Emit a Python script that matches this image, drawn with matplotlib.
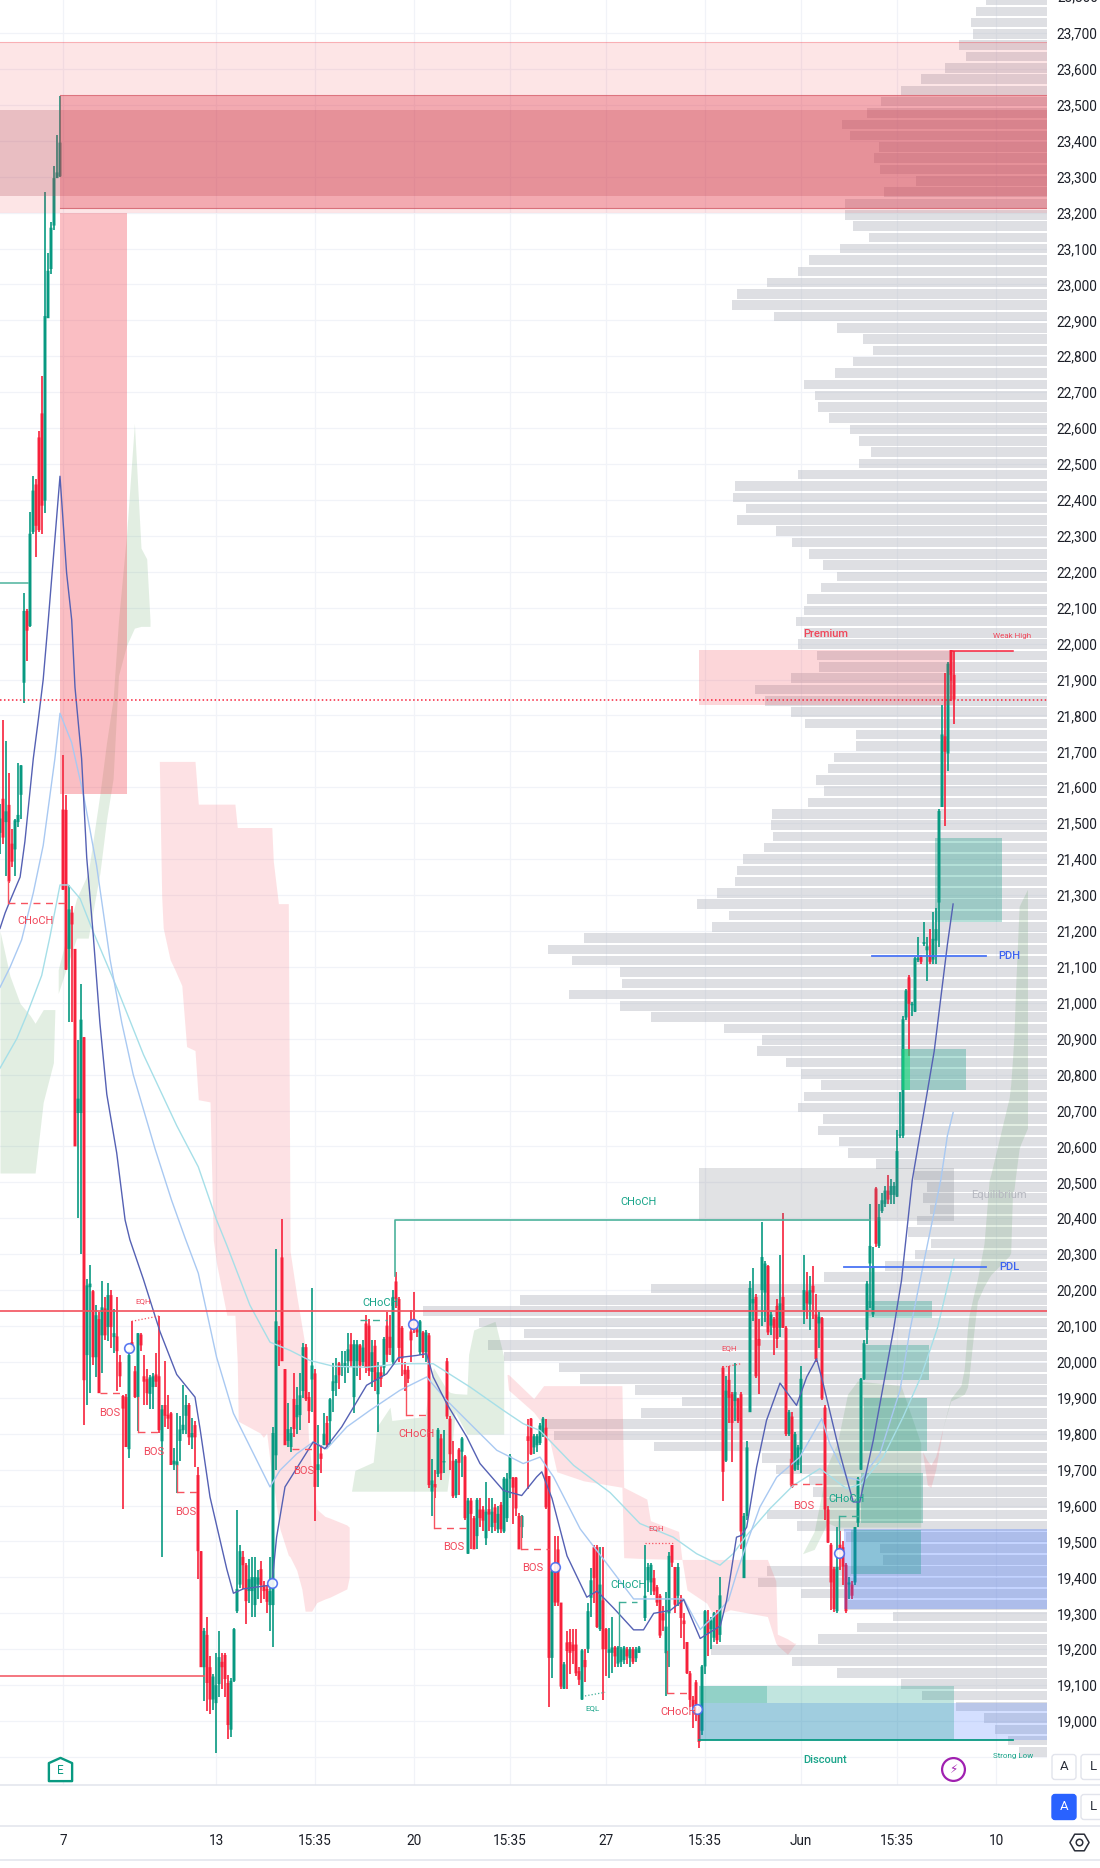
import numpy as np
import matplotlib
matplotlib.use('Agg')
import matplotlib.pyplot as plt
from matplotlib.path import Path
from matplotlib.patches import FancyBboxPatch, Rectangle

plt.rcParams['font.family'] = ['Roboto', 'DejaVu Sans']

na = np.nan
GREEN = '#089981'
RED = '#f7213b'

# candles, one entry per bar
opens = [21473,21568,21503,21551,21443,21427,21503,21579,21891,22091,
         22049,22311,22443,22574,22641,22398,22906,23043,23164,23296,
         23301,21538,21537,21150,21251,21150,20693,20693,20904,20019,
         20208,20197,20013,20119,20074,20149,20097,20186,20069,20071,
         20000,19905,19902,19757,20055,19974,19902,20076,19960,19952,
         19911,19930,19965,19960,19779,19880,19853,19857,19715,19712,
         19780,19810,19850,19880,19790,19824,19685,19473,19150,19240,
         19150,19060,19050,19103,19165,19184,19106,18976,19112,19306,
         19380,19457,19434,19362,19362,19323,19380,19423,19379,19368,
         19323,19323,19740,20060,20291,19980,19780,19763,19897,19846,
         19852,19919,20041,19902,19951,19968,19699,19745,19768,19830,
         19835,19919,19941,19996,19985,19985,20002,20049,19902,20002,
         20046,20000,20107,20101,19972,20045,19910,19971,19984,20101,
         20070,20000,20224,20175,20095,19978,19978,20085,20120,20090,
         20027,20082,20027,20074,19639,19660,19688,19787,19720,20002,
         19842,19725,19629,19756,19750,19737,19466,19614,19565,19515,
         19589,19589,19509,19590,19540,19595,19534,19602,19528,19565,
         19675,19678,19678,19571,19540,na,19793,19842,19762,19768,
         19774,19799,19817,19682,19176,19417,19478,19330,19090,19219,
         19220,19213,19213,19139,19060,19170,19201,19343,19484,19484,
         19256,19336,19256,19190,19190,19205,19160,19165,19170,19200,
         19175,19200,19175,19190,na,19287,19392,19386,19398,19373,
         19349,19300,19189,19300,19490,19429,19349,19343,19280,19220,
         19133,19059,19108,19034,18973,19152,19281,19256,19232,19300,
         19240,19984,19725,19950,19910,19891,19898,19910,19398,19571,
         19860,20163,20181,20064,20200,20193,20267,20101,20119,20156,
         20095,20181,20095,19799,19848,19700,19713,19756,20144,20196,
         20160,20212,20132,20107,20122,19873,19589,19491,19423,19306,
         19491,19484,19435,19380,19380,19386,19552,19700,19953,20089,
         20274,20132,20483,20323,20420,20440,20477,20465,20465,20460,
         20630,20630,20959,21071,20993,20975,21119,21130,21164,21146,
         21130,21120,21173,21279,21545,21742,21694,21982,21913]
closes = [21513,21460,21533,21338,21393,21508,21523,21661,22091,22036,
          22306,22426,22328,22316,22384,22912,23038,23158,23296,23312,
          23395,21315,21092,21260,21218,20600,20733,20953,19949,20213,
          20218,20013,20130,19913,20152,20074,20186,20097,20080,20030,
          19960,19870,19763,20019,20040,19902,20080,20046,19945,19913,
          19957,19960,19945,19810,19868,19850,19842,19713,19725,19723,
          19812,19825,19880,19790,19802,19790,19473,19150,19251,19106,
          19060,19124,19100,19178,19150,19117,18989,19112,19256,19368,
          19473,19434,19334,19395,19401,19401,19400,19379,19362,19332,
          19362,19802,20113,20050,20002,19768,19813,19802,19813,19880,
          19907,20041,19896,19863,19990,19652,19715,19730,19800,19768,
          19896,19946,19963,19963,19990,19997,20035,20002,20049,20049,
          19990,20040,19984,19975,20027,19947,19971,19953,20064,20020,
          20039,20181,20175,20039,20009,19965,19953,20060,20095,20082,
          20113,20027,20082,19657,19670,19650,19811,19690,19724,19848,
          19743,19626,19725,19719,19787,19565,19614,19577,19478,19616,
          19565,19558,19583,19575,19583,19552,19577,19534,19675,19675,
          19737,19650,19592,19478,19571,na,19780,19743,19793,19793,
          19823,19842,19595,19176,19417,19330,19330,19096,19158,19195,
          19190,19195,19133,19115,19197,19150,19306,19392,19398,19262,
          19380,19200,19200,19200,19205,19180,19205,19200,19205,19180,
          19200,19165,19200,19205,na,19349,19429,19435,19361,19330,
          19238,19280,19263,19460,19441,19324,19429,19287,19270,19133,
          19059,19040,19047,18942,19152,19306,19244,19280,19300,19225,
          19350,19694,19920,19900,19830,19916,19836,19528,19571,19762,
          20206,20175,19960,20045,20292,20274,20082,20132,20095,20064,
          20163,20095,19799,19860,19651,19799,19762,19953,20200,20163,
          20200,20193,20008,20126,19898,19589,19497,19386,19312,19429,
          19466,19430,19306,19386,19349,19540,19675,19953,20052,20218,
          20323,20267,20329,20403,20450,20477,20452,20490,20490,20587,
          20633,20954,21034,20997,20997,21124,21124,21114,21169,21157,
          21114,21178,21205,21534,21747,21699,21944,21913,21844]
highs = [21553,21788,21728,21640,21483,21513,21667,21663,22141,22096,
         22366,22466,22459,22591,22745,23258,23087,23175,23329,23417,
         23526,21689,21579,21328,21269,21150,20897,21051,20904,20230,
         20269,20200,20158,20140,20225,20180,20219,20200,20147,20180,
         20020,19907,19910,20030,20113,19990,20080,20080,20020,19980,
         19963,19970,20025,20128,19880,20002,19907,19860,19760,19857,
         19850,19935,19907,19885,19845,19835,19707,19473,19260,19290,
         19180,19130,19190,19250,19190,19190,19128,19120,19260,19587,
         19490,19473,19440,19450,19456,19456,19420,19445,19390,19380,
         19457,19820,20314,20100,20398,19980,19885,19820,19970,19930,
         19970,20052,20050,19915,20207,19980,19824,19770,19857,19850,
         19900,19997,20010,20000,20030,20030,20080,20080,20060,20060,
         20050,20060,20130,20120,20060,20060,20000,19990,20070,20140,
         20130,20200,20249,20180,20100,20000,19990,20145,20194,20110,
         20118,20085,20090,20080,19730,19700,19815,19800,19810,20010,
         19850,19780,19730,19760,19790,19740,19620,19620,19570,19620,
         19620,19600,19665,19620,19620,19605,19600,19610,19680,19690,
         19745,19680,19680,19580,19575,na,19842,19845,19800,19800,
         19830,19848,19840,19682,19420,19515,19515,19330,19165,19250,
         19255,19255,19255,19150,19200,19200,19330,19425,19490,19490,
         19484,19484,19260,19260,19290,19210,19210,19205,19210,19205,
         19205,19205,19205,19210,na,19490,19440,19440,19420,19380,
         19355,19320,19360,19470,19490,19430,19440,19350,19300,19220,
         19140,19070,19115,19040,19155,19310,19310,19290,19305,19310,
         19400,19990,19960,19990,19915,19996,19900,19915,19580,19780,
         20225,20261,20190,20120,20390,20280,20270,20140,20125,20175,
         20298,20415,20100,19865,19860,19805,19770,19990,20298,20250,
         20240,20267,20190,20140,20125,19880,19600,19495,19430,19540,
         19530,19500,19440,19400,19390,19540,19680,19955,20060,20225,
         20440,20320,20487,20440,20470,20490,20520,20510,20500,20646,
         20752,20963,21038,21078,21003,21128,21184,21134,21226,21184,
         21204,21254,21264,21539,21829,21919,21949,21982,21980]
lows = [21413,21443,21353,21333,21378,21353,21488,21513,21836,21951,
        22046,22306,22240,22311,22306,22363,22906,23028,23153,23296,
        23298,21315,21090,20947,20947,20600,20402,20301,19824,19880,
        19913,19991,19957,19913,19969,20060,20058,20040,20024,19918,
        19930,19590,19763,19733,20030,19900,19807,20030,19880,19880,
        19868,19870,19930,19802,19457,19820,19812,19713,19700,19635,
        19725,19800,19800,19770,19757,19707,19395,19150,19056,19028,
        19020,19030,18911,19067,19090,19067,18950,18956,19110,19300,
        19370,19368,19270,19330,19290,19290,19340,19330,19340,19301,
        19250,19206,19700,19990,20002,19768,19763,19750,19790,19800,
        19810,19900,19890,19830,19860,19556,19652,19690,19768,19760,
        19770,19860,19905,19925,19960,19940,19970,19985,19857,19960,
        19950,19990,19970,19960,19930,19920,19805,19930,19960,20000,
        20020,19995,20150,20000,19960,19920,19940,20000,20080,20070,
        20020,20010,20000,19650,19570,19620,19680,19670,19690,19840,
        19700,19620,19620,19630,19680,19560,19466,19480,19478,19480,
        19540,19530,19490,19530,19525,19530,19525,19525,19525,19555,
        19620,19550,19570,19478,19510,na,19645,19740,19745,19750,
        19770,19790,19590,19040,19120,19320,19320,19090,19090,19090,
        19130,19160,19125,19100,19060,19110,19190,19290,19330,19260,
        19250,19060,19125,19120,19135,19150,19150,19150,19160,19160,
        19150,19160,19165,19190,na,19280,19360,19350,19350,19320,
        19230,19250,19070,19150,19430,19300,19320,19230,19200,19130,
        19040,18980,19000,18925,18960,19130,19180,19200,19220,19215,
        19220,19614,19720,19830,19720,19836,19830,19480,19398,19560,
        19860,20115,19955,19910,20100,20110,20075,20075,20020,20040,
        20070,20095,19795,19795,19650,19695,19700,19690,20105,20120,
        20090,20120,20000,20040,19895,19560,19495,19310,19305,19300,
        19420,19380,19300,19340,19340,19380,19540,19700,19950,20050,
        20150,20125,20320,20318,20415,20430,20440,20440,20440,20458,
        20623,20623,20953,20853,20963,20973,21114,21109,21159,21061,
        21109,21109,21109,21154,21544,21492,21646,21840,21775]

# volume profile, length of each row from the right edge in bars
profile_widths = [20.4,23.7,25.2,24.7,29.2,26.9,34,42,48.7,55.2,59.9,68.4,65.7,56,57.6,55.7,
                  43.6,54.3,67.4,67.5,64.6,59.5,69,79.4,83,93.4,103.2,104.9,91,69.9,61.4,57.9,
                  64.6,70.6,80.9,77.4,76.2,72.6,65.7,62.6,58.6,62.6,83,104,104.6,100.4,103.2,90.5,
                  85,79.4,74.6,69.9,75.4,80.1,81,83.6,81,83,76.7,75.9,85.4,97.3,94,85.4,80.6,63.7,
                  63.7,71.1,73,77,74.3,79.7,91.7,92.1,91.3,94.5,101.3,103.2,104,110,116.8,106,111.6,
                  154.3,166.2,158.2,142.3,141.6,159.4,142.3,132,107.7,95.1,96.6,87,82.1,75.4,81,83,
                  74.6,76.2,69.3,66.5,57.1,44.3,40,41.2,39.1,43.2,46.5,38.7,44,54,74.3,132,175.7,208,
                  189.4,174.3,186.3,181,162.7,155.7,137.3,121.7,135.3,167.3,164.4,131,95,90.2,79.3,
                  78,74,93.2,83.2,67,55.6,54.6,93.2,96.5,82,66.5,51.5,63.2,76.2,112,84.9,69.9,48.7,
                  41.7,30.2,21,17.4,13,9.3]

# moving averages
ma_fast_x = [0,1.7,3.3,6.7,8.3,11.1,12.8,14.4,16.1,20,22.2,23.9,25,27.2,28.9,31.1,33.3,35.6,38.9,41.7,43.3,47.8,53.3,58.9,
             65,66.7,70,75.6,77.8,81.1,90.6,92.2,95,104.4,108.3,113.9,122.2,128.9,132.8,138.9,142.2,144.4,148.9,155.6,160,
             167.8,173.9,178.9,180.6,184,189,195.6,199,204.5,211.2,214.5,217.9,223.4,227.9,233.4,240.1,242.2,245.5,247.2,
             248.9,252.2,255.5,260,265.5,268.9,272.2,274.4,280,284.4,286.6,291.1,297.8,300.5,304.1,311.4,315.8,317.7]
ma_fast_y = [21207,21250,21283,21350,21449,21680,21790,21900,22066,22466,22197,22066,21878,21680,21405,21186,20944,20745,20582,
             20395,20340,20230,20085,19965,19902,19813,19624,19423,19356,19368,19379,19512,19652,19777,19758,19819,19935,19967,
             20012,20018,20023,19958,19884,19791,19717,19642,19628,19680,19694,19620,19460,19345,19362,19315,19254,19254,19300,
             19308,19338,19230,19265,19336,19512,19517,19540,19707,19837,19941,19879,19958,20009,19939,19744,19610,19610,19782,
             20088,20227,20507,20865,21162,21275]
ma_mid_x = [0,3.3,7.2,11.1,14.4,18.3,20,23.9,27.8,32.2,36.7,40.6,44.4,51.7,57.2,61.7,66.1,72.2,77.8,90,93.3,98.9,104.4,108.9,
            115.6,123.3,133.3,142.2,148.9,155.6,165.6,174.4,180,184.5,193.4,202.3,211.2,227.9,233.4,239,242.8,245.5,248.9,
            253.3,258.9,262.2,266.6,273.9,276.6,282.2,286.6,293.3,300,303.3,309.1,313.6,315.8,317.7]
ma_mid_y = [21043,21098,21175,21306,21438,21680,21806,21724,21580,21382,21120,20944,20800,20593,20450,20345,20247,20013,19857,
            19652,19698,19744,19777,19758,19819,19865,19921,19958,19893,19837,19754,19717,19735,19680,19535,19438,19340,19340,
            19255,19300,19336,19410,19494,19596,19679,19703,19735,19842,19772,19679,19670,19744,19921,20088,20325,20507,20630,20694]
ma_slow_x = [0,5.6,8.9,13.9,16.7,20,22.8,26.7,31.1,38.9,47.8,58.9,66.1,72.2,75.6,83.3,90,96.7,103.3,111.1,122.3,133.4,144.4,
             156.7,167.8,174.4,180,191.2,203.4,213.3,224.4,232.2,240,244.4,248.9,256.6,264.4,273.3,282.2,287.2,294.4,301,307,312.5,318]
ma_slow_y = [20818,20900,20966,21076,21186,21328,21328,21290,21197,21043,20856,20658,20543,20395,20325,20158,20055,20032,20004,
             19988,19985,19995,19995,19930,19865,19828,19809,19712,19636,19550,19512,19466,19434,19466,19517,19591,19656,19703,
             19647,19661,19735,19846,19959,20095,20286]

# clouds
green1_x = [19.4,25.5,29.4,33.3,35.5,37.7,39.5,42.2,44.8,47,48.9,50]
green1_top = [21092,21290,21361,21581,21724,21845,22065,22306,22613,22266,22236,22065]
green1_bot = [21026,21180,21180,21361,21509,21624,21911,21995,22043,22048,22048,22048]
green2_x = [0,3.3,6.7,10,11.7,14.4,17.8,18.3]
green2_top = [21200,21075,20998,20965,20943,20981,20981,20981]
green2_bot = [20526,20526,20526,20526,20526,20723,20833,20981]
green3_x = [117.2,118.3,124.4,125.6,130,130.6,141.7,142.9,144.5,149,150.1,151.7,155.6,156.2,157.9,165,167.9]
green3_top = [19642,19698,19721,19819,19874,19837,19848,19934,19984,19922,19915,19912,19910,20021,20089,20113,20015]
green3_bot = [19640,19640,19640,19640,19640,19640,19640,19640,19640,19640,19713,19860,19799,19799,19799,19799,19799]
green4_x = [267.5,271.4,275.8,279.1,282.5,285.8,300.3,306.9]
green4_top = [19466,19528,19713,19774,19910,19947,19934,19774]
green4_bot = [19466,19478,19552,19540,19540,19540,19540,19540]
green5_x = [314.1,316.9,320.3,321.4,322.5,323,324.7,325.8,328,329.7,330.3,336.4,336.9,337.5,338,338.6,339.7,340.3,342.5]
green5_top = [19811,19898,19934,19980,20095,20130,20193,20230,20329,20505,20523,20736,20773,20843,20913,21055,21268,21279,21316]
green5_bot = [19811,19891,19905,19910,19930,19959,20090,20169,20210,20235,20243,20295,20304,20472,20480,20522,20593,20608,20651]
pink1_x = [53.1,53.9,54.4,56.7,58.3,60.6,62.2,65,66.1,70,71.1,72.2,75.6,78.3,79.1,79.4,86.7,87.8,88.9,90.6,91.1,92.8,93.3,96.1,
           96.7,98.9,100.6,101.7,102.8,103.9,105.6,108.3,110,115.6,116.4]
pink1_top = [21672,21672,21672,21672,21672,21672,21672,21672,21553,21553,21553,21553,21553,21553,21488,21488,21488,21488,21488,
             21488,21394,21276,21276,21276,20308,20185,20100,20045,19790,19700,19590,19570,19565,19546,19540]
pink1_bot = [21672,21295,21208,21120,21092,21048,20878,20867,20730,20724,20340,20273,20130,20130,19996,19835,19802,19790,19802,
             19680,19663,19560,19535,19462,19457,19420,19368,19306,19306,19306,19330,19340,19345,19368,19400]
pink2_x = [169,169.5,177.9,181.2,183.4,185.6,194.5,207.3,207.9,215.6,216.8,226.2,227.3,229,235.6,237.9,243.4,255.8,258.6,259.1,262.5,264.7,265.3]
pink2_top = [19965,19965,19898,19934,19934,19934,19934,19934,19651,19618,19558,19528,19450,19450,19450,19450,19450,19450,19390,19242,19229,19217,19217]
pink2_bot = [19965,19922,19860,19824,19774,19694,19669,19651,19455,19452,19452,19450,19450,19365,19328,19291,19310,19291,19217,19211,19186,19211,19217]
pink3_x = [307.5,309.1,310.3,311.9,314.1]
pink3_top = [19750,19725,19713,19737,19811]
pink3_bot = [19750,19657,19651,19700,19805]

# order blocks and zones
ob_left = [311.7,300.3,289,288,288,287,283.6]
ob_right = [333.9,321.9,310.8,309.7,308.9,307.8,306.9]
ob_top = [21460,20870,20171,20048,19900,19690,19532]
ob_bottom = [21226,20758,20122,19949,19753,19552,19410]

# structure lines: x0, x1, level, start of the vertical leg
red_x0 = [33.3,45.9,59.1,97.2,135.4,144.7,173.6,222.3,263.4,2.8]
red_x1 = [41.1,54.4,66.1,103.9,142.3,155.6,182.9,230.6,274.1,21.7]
red_level = [19913,19804,19637,19757,19852,19537,19478,19079,19660,21279]
red_from = [19913,19902,19713,19757,19971,19651,19571,19195,19730,21339]
green_x0 = [206.2,279.5,120]
green_x1 = [212.3,286.4,129]
green_level = [19332,19570,20117]
green_from = [19166,19497,20117]

# swing markers
swing_x = [43.1,90.6,137.5,185,232.3,279.7]
swing_y = [20038,19384,20105,19428,19034,19468]

# labels
red_labels = ['CHoCH','BOS','BOS','BOS','BOS','CHoCH','BOS','BOS','CHoCH','BOS']
red_label_x = [12,36.7,51.1,61.8,101.1,138.9,151.4,177.6,226.2,268]
red_label_y = [21228,19857,19750,19582,19696,19798,19486,19425,19025,19599]
green_labels = ['CHoCH','CHoCH','CHoCH','CHoCH']
green_label_x = [126.7,213,209.5,282.2]
green_label_y = [20164,20446,19380,19619]

tick_bars = [21,72,105,138,170,202,235,267,299,332]
tick_names = ['7','13','15:35','20','15:35','27','15:35','Jun','15:35','10']
price_ticks = list(range(19000, 23800, 100))

fig = plt.figure(figsize=(11, 18.68), dpi=100)
ax = fig.add_axes([0, 83 / 1868, 1047 / 1100, 1785 / 1868])
ax.set_xlim(0, 349)
ax.set_ylim(18822, 23792)
for s in ax.spines.values():
    s.set_visible(False)

ax.set_xticks(tick_bars)
ax.set_xticklabels(tick_names, fontsize=9.8, color='#1c1f28')
ax.set_yticks(price_ticks)
ax.set_yticklabels(['{:,}'.format(p) for p in price_ticks], fontsize=9.8, color='#1c1f28')
ax.yaxis.tick_right()
ax.tick_params(axis='x', length=0, pad=35)
ax.tick_params(axis='y', length=0, pad=7)
ax.set_axisbelow(True)
ax.grid(True, color='#f1f3f8', lw=0.9)
ax.axhline(18900, color='#f1f3f8', lw=0.9, zorder=0)
ax.text(1.0095, 23800, '23,800', transform=ax.get_yaxis_transform(), fontsize=9.8, color='#1c1f28', va='center')

# profile rows sit behind everything
levels = 23792 - 31.47 * np.arange(len(profile_widths))
widths = np.array(profile_widths)
ax.barh(levels, widths, left=349 - widths, height=26.5, color='#b2b5be', alpha=0.42, lw=0, zorder=1)

# clouds
for x, top, bot in [(green1_x, green1_top, green1_bot), (green2_x, green2_top, green2_bot),
                    (green3_x, green3_top, green3_bot), (green4_x, green4_top, green4_bot),
                    (green5_x, green5_top, green5_bot)]:
    ax.fill_between(x, bot, top, color='#4c9a50', alpha=0.16, lw=0, zorder=2)
for x, top, bot in [(pink1_x, pink1_top, pink1_bot), (pink2_x, pink2_top, pink2_bot),
                    (pink3_x, pink3_top, pink3_bot)]:
    ax.fill_between(x, bot, top, color='#f7525f', alpha=0.17, lw=0, zorder=2)

# candles
bars = np.arange(len(opens))
o = np.array(opens, dtype=float)
c = np.array(closes, dtype=float)
h = np.array(highs, dtype=float)
l = np.array(lows, dtype=float)
colors = [GREEN if cc >= oo else RED for oo, cc in zip(o, c)]
ax.vlines(bars, l, h, colors=colors, lw=1.2, zorder=3)
bodies = ax.bar(bars, np.abs(c - o), bottom=np.minimum(o, c), width=0.98, color=colors, lw=0, zorder=3)
for b in bodies:
    b.set_snap(False)

# zones on top of the candles
ax.axhspan(23199, 23675, color='#f23645', alpha=0.13, lw=0, zorder=4)
ax.axhline(23675, color='#f23645', alpha=0.3, lw=0.8, zorder=4)
ax.axhspan(23246, 23487, color='#a8404e', alpha=0.23, lw=0, zorder=4)
ax.add_patch(Rectangle((20, 23212), 329, 316, fc='#e23d4e', ec='none', alpha=0.35, zorder=4))
ax.plot([20, 349], [23528, 23528], color='#c9404e', alpha=0.5, lw=0.8, zorder=4)
ax.plot([20, 349], [23212, 23212], color='#c9404e', alpha=0.7, lw=0.8, zorder=4)
ax.add_patch(Rectangle((20, 21580), 22.2, 1619, fc='#f23645', ec='none', alpha=0.32, zorder=4))
ax.add_patch(Rectangle((233, 21830), 85, 152, fc='#f23645', ec='none', alpha=0.2, zorder=4))
ax.add_patch(Rectangle((233, 20391), 85, 150, fc='#787b86', ec='none', alpha=0.22, zorder=4))
ax.add_patch(Rectangle((233, 18948), 116, 102, fc='#2962ff', ec='none', alpha=0.2, zorder=4))
ax.add_patch(Rectangle((233, 18948), 85, 150, fc='#089981', ec='none', alpha=0.25, zorder=4))
ax.add_patch(Rectangle((233, 19050), 22.5, 48, fc='#089981', ec='none', alpha=0.25, zorder=4))
ax.add_patch(Rectangle((281.4, 19312), 67.6, 222, fc='#2962ff', ec='none', alpha=0.27, zorder=4))
ax.plot([233, 337.5], [18948, 18948], color=GREEN, lw=1.3, zorder=5)
for x0, x1, t, b in zip(ob_left, ob_right, ob_top, ob_bottom):
    ax.add_patch(Rectangle((x0, b), x1 - x0, t - b, fc='#089981', ec='none', alpha=0.3, zorder=4))
ax.bar(302, 112, bottom=20758, width=2.4, color='#1fdc7c', alpha=0.6, lw=0, zorder=4)

# moving averages
ax.plot(ma_slow_x, ma_slow_y, color='#a6dfe8', lw=1.0, zorder=5)
ax.plot(ma_mid_x, ma_mid_y, color='#a9c9f2', lw=1.0, zorder=5)
ax.plot(ma_fast_x, ma_fast_y, color='#5561b4', lw=1.0, zorder=5)

# level lines
ax.axhline(20142, color='#f2505c', lw=1.2, zorder=5)
ax.axhline(21842, color=RED, lw=1.1, ls=(0, (1, 1.6)), zorder=5)
ax.plot([0, 68], [19125, 19125], color='#f2505c', lw=1.1, zorder=5)
ax.plot([0, 9.4], [22170, 22170], color='#4db39c', lw=1.1, zorder=5)
ax.plot([131.5, 131.5, 290], [20240, 20394, 20394], color='#4db39c', lw=1.2, zorder=5)
ax.plot([290.5, 328.6], [21130, 21130], color='#4a74f5', lw=1.3, zorder=5)
ax.plot([281.4, 328.6], [20265, 20265], color='#4a74f5', lw=1.3, zorder=5)
ax.plot([317, 317, 337.5], [21900, 21980, 21980], color=RED, lw=1.1, zorder=5)
for x0, x1, p, start in zip(red_x0, red_x1, red_level, red_from):
    ax.plot([x0, x1], [p, p], color='#f7525f', lw=1.0, ls=(0, (5, 4)), zorder=5)
    ax.plot([x0, x0], [start, p], color='#f7525f', lw=1.0, zorder=5)
for x0, x1, p, start in zip(green_x0, green_x1, green_level, green_from):
    ax.plot([x0, x1], [p, p], color='#3fae97', lw=1.0, ls=(0, (5, 4)), zorder=5)
    ax.plot([x0, x0], [start, p], color='#3fae97', lw=1.0, zorder=5)
ax.plot([43.9, 53.1], [20113, 20128], color='#f7525f', lw=0.9, ls=':', zorder=5)
ax.plot([215, 224.5], [19495, 19495], color='#f7525f', lw=0.9, ls=':', zorder=5)
ax.plot([240.9, 247], [19985, 19995], color='#f7525f', lw=0.9, ls=':', zorder=5)
ax.plot([195, 201.7], [19070, 19080], color='#3fae97', lw=0.9, ls=':', zorder=5)

ax.scatter(swing_x, swing_y, s=48, facecolor='white', edgecolor='#4a6cf0', lw=1.2,
           marker='o', zorder=6, alpha=0.9)

# labels
for t, x, y in zip(red_labels, red_label_x, red_label_y):
    ax.text(x, y, t, color='#f0475a', fontsize=8, ha='center', va='center', zorder=7)
for t, x, y in zip(green_labels, green_label_x, green_label_y):
    ax.text(x, y, t, color='#1aa58a', fontsize=8, ha='center', va='center', zorder=7)
ax.text(47.8, 20170, 'EQH', color='#f0475a', fontsize=5.8, ha='center', va='center', zorder=7)
ax.text(218.6, 19536, 'EQH', color='#f0475a', fontsize=5.8, ha='center', va='center', zorder=7)
ax.text(243, 20037, 'EQH', color='#f0475a', fontsize=5.8, ha='center', va='center', zorder=7)
ax.text(197.6, 19037, 'EQL', color='#1aa58a', fontsize=5.8, ha='center', va='center', zorder=7)
ax.text(275.3, 22028, 'Premium', color='#f0475a', fontsize=8, fontweight='medium', ha='center', va='center', zorder=7)
ax.text(275, 18893, 'Discount', color='#1aa58a', fontsize=8, fontweight='medium', ha='center', va='center', zorder=7)
ax.text(333, 20466, 'Equilibrium', color='#b6b8c0', fontsize=8, ha='center', va='center', zorder=7)
ax.text(337.5, 22022, 'Weak High', color='#f0475a', fontsize=5.8, ha='center', va='center', zorder=7)
ax.text(337.8, 18903, 'Strong Low', color='#1aa58a', fontsize=5.8, ha='center', va='center', zorder=7)
ax.text(336.5, 21130, 'PDH', color='#3c63f0', fontsize=8, fontweight='medium', ha='center', va='center', zorder=7)
ax.text(336.5, 20265, 'PDL', color='#3c63f0', fontsize=8, fontweight='medium', ha='center', va='center', zorder=7)

# chart icons
house = Path([(-1, -1), (1, -1), (1, 0.55), (0, 1), (-1, 0.55), (-1, -1)], closed=True)
ax.scatter([20], [18866], marker=house, s=280, facecolor='white', edgecolor=GREEN, lw=1.7, zorder=7)
ax.text(20, 18862, 'E', color=GREEN, fontsize=8.5, ha='center', va='center', zorder=8)
ax.scatter([317.8], [18866], marker='o', s=270, facecolor='white', edgecolor='#a020b0', lw=1.6, zorder=7)
ax.text(317.8, 18866, '\u26a1', color='#a020b0', fontsize=8.5, family=['DejaVu Sans'], ha='center', va='center', zorder=8)

# panels around the plot, in pixels
ui = fig.add_axes([0, 0, 1, 1], zorder=10)
ui.set_xlim(0, 1100)
ui.set_ylim(1868, 0)
ui.axis('off')
ui.patch.set_alpha(0)
for y in [1785, 1826, 1860]:
    ui.plot([0, 1100], [y, y], color='#e2e4ec', lw=1.1)
for x0, x1, y, face in [(1052, 1076, 1767, 'white'), (1081, 1112, 1767, 'white'),
                        (1052, 1076, 1807, '#2962ff'), (1081, 1112, 1807, 'white')]:
    ui.add_patch(FancyBboxPatch((x0, y - 12.5), x1 - x0, 25, boxstyle='round,pad=0,rounding_size=3',
                                fc=face, ec='#e2e4ec' if face == 'white' else face, lw=1))
ui.text(1064, 1767, 'A', color='#2a2e39', fontsize=9.5, ha='center', va='center')
ui.text(1093, 1767, 'L', color='#2a2e39', fontsize=9.5, ha='center', va='center')
ui.text(1064, 1807, 'A', color='white', fontsize=9.5, ha='center', va='center')
ui.text(1093, 1807, 'L', color='#2a2e39', fontsize=9.5, ha='center', va='center')
ui.scatter([1079], [1842], marker='H', s=190, facecolor='white', edgecolor='#2a2e39', lw=1.1)
ui.scatter([1079], [1842], marker='o', s=22, facecolor='white', edgecolor='#2a2e39', lw=1.1)

fig.savefig('out.png', dpi=100)
